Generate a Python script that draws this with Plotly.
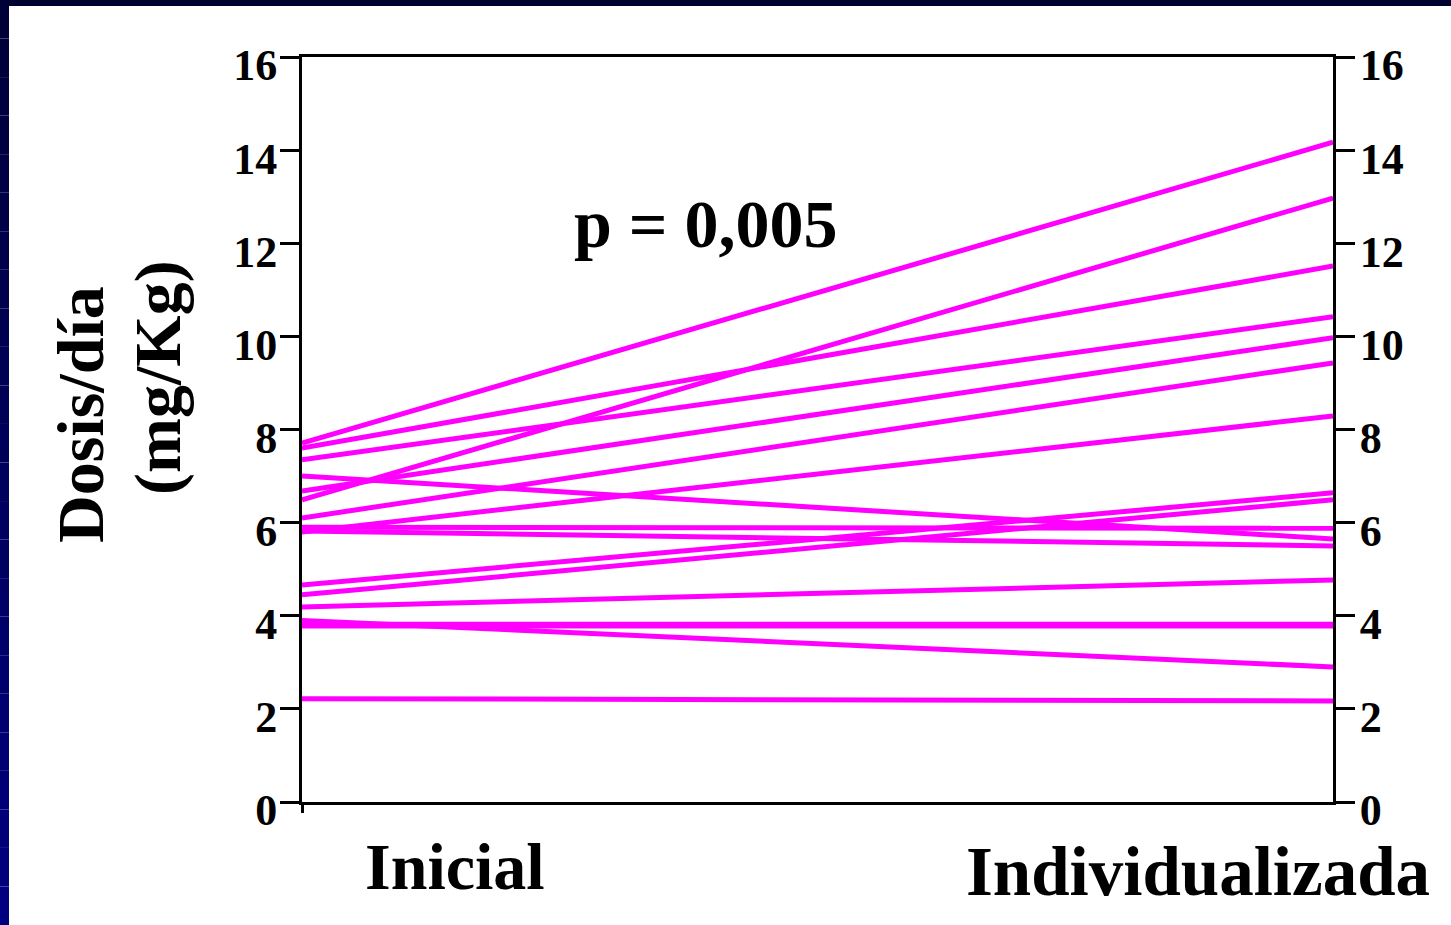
import plotly.graph_objects as go

# Dose per patient (mg/Kg/day): initial vs individualised regimen
groups = ["Inicial", "Individualizada"]
dose_inicial = [7.71, 7.60, 7.35, 6.68, 6.49, 6.10, 5.80, 7.00, 5.90, 5.82,
                4.66, 4.45, 4.19, 3.90, 3.82, 3.78, 2.22]
dose_individual = [14.17, 11.51, 10.42, 9.97, 12.97, 9.43, 8.29, 5.65, 5.88, 5.50,
                   6.64, 6.49, 4.77, 2.90, 3.82, 3.78, 2.17]
y_ticks = [0, 2, 4, 6, 8, 10, 12, 14, 16]
p_label = "p = 0,005"
y_title = ["Dosis/día", "(mg/Kg)"]

W, H = 1451, 925
L, R, T, B = 302, 1333, 57, 802
SERIF = "Liberation Serif, Times New Roman, serif"
MAGENTA = "#FF00FF"


def px_x(px):
    return (px - L) / (R - L)


def px_y(py):
    return (B - py) / (B - T)


fig = go.Figure()
for a, b in zip(dose_inicial, dose_individual):
    fig.add_trace(go.Scatter(
        x=[0, 1], y=[a, b], mode="lines",
        line=dict(color=MAGENTA, width=5),
        hoverinfo="skip", showlegend=False,
    ))

# invisible trace so the right-hand axis is drawn
fig.add_trace(go.Scatter(x=[0], y=[0], yaxis="y2", mode="markers",
                         marker=dict(opacity=0), showlegend=False, hoverinfo="skip"))

tick_font = dict(family=SERIF, size=44, color="black", weight="bold")
axis_common = dict(
    range=[0, 16], tickvals=y_ticks, ticktext=[str(v) for v in y_ticks],
    showgrid=False, zeroline=False, showline=True, linecolor="black", linewidth=3,
    ticks="outside", ticklen=19, tickwidth=3, tickcolor="black",
    tickfont=tick_font, fixedrange=True, ticklabelshift=8,
)

shapes = []
# dark frame strips along the top and left edges
shapes.append(dict(type="rect", xref="paper", yref="paper", layer="below",
                   x0=px_x(0), x1=px_x(W), y0=px_y(6), y1=px_y(0),
                   fillcolor="#000030", line=dict(width=0)))
n_seg = 24
for i in range(n_seg):
    y0p = i * H / n_seg
    y1p = (i + 1) * H / n_seg
    t = i / (n_seg - 1)
    blue = int(0x38 + t * (0x80 - 0x38))
    shapes.append(dict(type="rect", xref="paper", yref="paper", layer="below",
                       x0=px_x(0), x1=px_x(9), y0=px_y(y1p), y1=px_y(y0p),
                       fillcolor=f"rgb(0,0,{blue})", line=dict(width=0)))


def label(text, cx, cy, size, angle=0):
    return dict(text=text, x=px_x(cx), y=px_y(cy), xref="paper", yref="paper",
                xanchor="center", yanchor="middle", textangle=angle,
                showarrow=False,
                font=dict(family=SERIF, size=size, color="black", weight="bold"))


annotations = [
    label(p_label, 706, 224, 68),
    label(groups[0], 455, 866, 66),
    label(groups[1], 1198, 872, 69),
    label(y_title[0], 80, 415, 66, -90),
    label(y_title[1], 158, 378, 66, -90),
]

fig.update_layout(
    width=W, height=H,
    margin=dict(l=L, r=W - R, t=T, b=H - B, pad=0),
    paper_bgcolor="white", plot_bgcolor="white",
    xaxis=dict(range=[0, 1], showgrid=False, zeroline=False, showline=True,
               mirror=True, linecolor="black", linewidth=3,
               tickvals=[0], ticks="outside", ticklen=8, tickwidth=3,
               tickcolor="black", showticklabels=False, fixedrange=True),
    yaxis=dict(side="left", ticklabelstandoff=-6, **axis_common),
    yaxis2=dict(side="right", overlaying="y", anchor="x", ticklabelstandoff=-4,
                **axis_common),
    shapes=shapes, annotations=annotations,
)

fig.write_html("out.html", config={"displayModeBar": False})
